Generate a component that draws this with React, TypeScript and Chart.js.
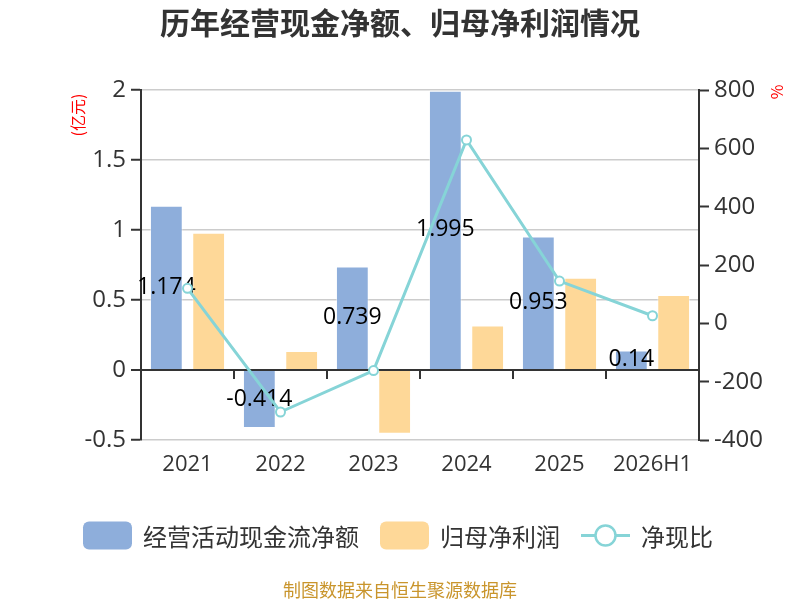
import { useEffect, useRef } from 'react';
import { Chart, registerables } from 'chart.js';

Chart.register(...registerables);

const years = ['2021', '2022', '2023', '2024', '2025', '2026H1'];
const cashFlow = [1.174, -0.414, 0.739, 1.995, 0.953, 0.14];
const netProfit = [0.98, 0.136, -0.455, 0.317, 0.659, 0.536];
const cashRatio = [120, -304, -162, 629, 145, 26];
const leftTicks = [-0.5, 0, 0.5, 1, 1.5, 2];
const rightTicks = [-400, -200, 0, 200, 400, 600, 800];
const seriesNames = ['经营活动现金流净额', '归母净利润', '净现比'];

const title = '历年经营现金净额、归母净利润情况';
const source = '制图数据来自恒生聚源数据库';

const FONT = '"Open Sans", "Noto Sans CJK SC", sans-serif';
const CJK = '"Noto Sans CJK SC", sans-serif';
const BLUE = '#8eaedb';
const ORANGE = '#fed898';
const TEAL = '#86d4d7';
const TEXT = '#333333';

// small tick marks on the zero line, between the categories
const zeroTicks = {
  id: 'zeroTicks',
  beforeDatasetsDraw(chart: Chart) {
    const { ctx, chartArea } = chart;
    const y0 = chart.scales.y.getPixelForValue(0);
    const step = (chartArea.right - chartArea.left) / years.length;
    ctx.save();
    ctx.strokeStyle = TEXT;
    ctx.lineWidth = 2;
    for (let i = 1; i < years.length; i += 1) {
      const x = Math.round(chartArea.left + step * i);
      ctx.beginPath();
      ctx.moveTo(x, y0);
      ctx.lineTo(x, y0 + 9);
      ctx.stroke();
    }
    ctx.restore();
  },
};

// value labels in the middle of the blue bars
const barLabels = {
  id: 'barLabels',
  afterDatasetDraw(chart: Chart, args: { index: number }) {
    if (args.index !== 0) return;
    const { ctx } = chart;
    const meta = chart.getDatasetMeta(0);
    ctx.save();
    ctx.fillStyle = '#000';
    ctx.font = `23px ${FONT}`;
    ctx.textAlign = 'center';
    ctx.textBaseline = 'middle';
    meta.data.forEach((bar: any, i: number) => {
      ctx.fillText(String(cashFlow[i]), bar.x, (bar.y + bar.base) / 2);
    });
    ctx.restore();
  },
};

const decor = {
  id: 'decor',
  afterDraw(chart: Chart) {
    const { ctx } = chart;
    ctx.save();
    ctx.fillStyle = TEXT;
    ctx.font = `bold 30px ${CJK}`;
    ctx.textAlign = 'center';
    ctx.textBaseline = 'middle';
    ctx.fillText(title, 400, 23);

    ctx.fillStyle = '#ff0000';
    ctx.font = `16px ${CJK}`;
    ctx.save();
    ctx.translate(78, 115);
    ctx.rotate(-Math.PI / 2);
    ctx.fillText('(亿元)', 0, 0);
    ctx.restore();
    ctx.save();
    ctx.translate(777, 92);
    ctx.rotate(-Math.PI / 2);
    ctx.fillText('%', 0, 0);
    ctx.restore();

    // legend
    ctx.font = `24px ${CJK}`;
    ctx.textAlign = 'left';
    const box = 49;
    const gap = 11;
    const pad = 21;
    const widths = seriesNames.map((n) => ctx.measureText(n).width);
    const total = widths.reduce((s, w) => s + w, 0) + 3 * (box + gap) + 2 * pad;
    let x = 398 - total / 2;
    const ly = 535.5;
    seriesNames.forEach((name, i) => {
      if (i < 2) {
        ctx.fillStyle = i === 0 ? BLUE : ORANGE;
        ctx.beginPath();
        ctx.roundRect(x, ly - 14, box, 28, 6);
        ctx.fill();
      } else {
        ctx.strokeStyle = TEAL;
        ctx.lineWidth = 3;
        ctx.beginPath();
        ctx.moveTo(x, ly);
        ctx.lineTo(x + box, ly);
        ctx.stroke();
        ctx.beginPath();
        ctx.arc(x + box / 2, ly, 10, 0, Math.PI * 2);
        ctx.fillStyle = '#fff';
        ctx.fill();
        ctx.lineWidth = 2.5;
        ctx.stroke();
      }
      ctx.fillStyle = TEXT;
      ctx.fillText(name, x + box + gap, ly + 1);
      x += box + gap + widths[i] + pad;
    });

    ctx.fillStyle = '#c9952c';
    ctx.font = `18px ${CJK}`;
    ctx.textAlign = 'center';
    ctx.fillText(source, 400, 590);
    ctx.restore();
  },
};

export default function App() {
  const canvasRef = useRef<HTMLCanvasElement | null>(null);

  useEffect(() => {
    if (canvasRef.current === null) return () => {};
    const chart = new Chart(canvasRef.current, {
      type: 'bar',
      data: {
        labels: years,
        datasets: [
          {
            type: 'bar',
            label: seriesNames[0],
            data: cashFlow,
            backgroundColor: BLUE,
            borderColor: 'rgba(255,255,255,0.45)',
            borderWidth: 1,
            yAxisID: 'y',
            order: 1,
            categoryPercentage: 0.91,
            barPercentage: 0.775,
          },
          {
            type: 'bar',
            label: seriesNames[1],
            data: netProfit,
            backgroundColor: ORANGE,
            borderColor: 'rgba(255,255,255,0.45)',
            borderWidth: 1,
            yAxisID: 'y',
            order: 2,
            categoryPercentage: 0.91,
            barPercentage: 0.775,
          },
          {
            type: 'line',
            label: seriesNames[2],
            data: cashRatio,
            borderColor: TEAL,
            borderWidth: 3,
            pointRadius: 4.5,
            pointBorderWidth: 2,
            pointBackgroundColor: '#fff',
            pointBorderColor: TEAL,
            yAxisID: 'y1',
            order: 0,
          } as any,
        ],
      },
      options: {
        responsive: false,
        animation: false,
        layout: { padding: { top: 90, bottom: 100, left: 0, right: 0 } },
        plugins: {
          legend: { display: false },
          tooltip: { enabled: false },
        },
        scales: {
          x: {
            grid: { display: false, drawTicks: false },
            border: { display: false },
            ticks: { color: TEXT, font: { size: 22, family: FONT }, padding: 12 },
            afterFit: (s: any) => { s.height = 60; },
          },
          y: {
            position: 'left',
            min: leftTicks[0],
            max: leftTicks[leftTicks.length - 1],
            ticks: {
              stepSize: leftTicks[1] - leftTicks[0],
              color: TEXT,
              font: { size: 24, family: FONT },
              padding: 5,
              callback: (v: any) => String(Number(v)),
            },
            grid: {
              color: (c: any) => (c.tick && c.tick.value === 0 ? TEXT : '#cccccc'),
              lineWidth: (c: any) => (c.tick && c.tick.value === 0 ? 2 : 1.5),
              tickColor: TEXT,
              tickLength: 10,
              tickWidth: 2,
            },
            border: { color: TEXT, width: 2 },
            afterFit: (s: any) => { s.width = 141; },
          },
          y1: {
            position: 'right',
            min: rightTicks[0],
            max: rightTicks[rightTicks.length - 1],
            ticks: {
              stepSize: rightTicks[1] - rightTicks[0],
              color: TEXT,
              font: { size: 24, family: FONT },
              padding: 5,
              callback: (v: any) => String(Number(v)),
            },
            grid: {
              drawOnChartArea: false,
              tickColor: TEXT,
              tickLength: 10,
              tickWidth: 2,
            },
            border: { color: TEXT, width: 2 },
            afterFit: (s: any) => { s.width = 101; },
          },
        },
      } as any,
      plugins: [zeroTicks, barLabels, decor],
    });
    return () => {
      chart.destroy();
    };
  }, []);

  return (
    <canvas
      ref={canvasRef}
      width={800}
      height={600}
      style={{ position: 'fixed', left: 0, top: 0 }}
    />
  );
}
